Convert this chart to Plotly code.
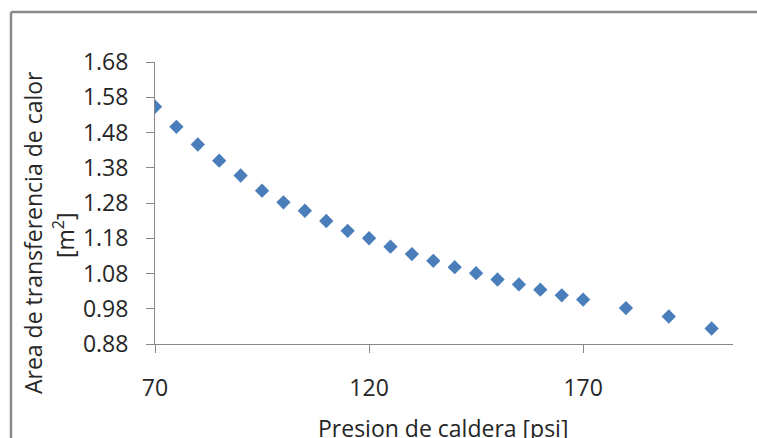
import plotly.graph_objects as go

presion = [70, 75, 80, 85, 90, 95, 100, 105, 110, 115, 120, 125, 130, 135,
           140, 145, 150, 155, 160, 165, 170, 180, 190, 200]
area = [1.553, 1.496, 1.446, 1.400, 1.358, 1.315, 1.282, 1.258, 1.229, 1.201,
        1.180, 1.156, 1.135, 1.116, 1.098, 1.081, 1.063, 1.049, 1.034, 1.018,
        1.006, 0.982, 0.958, 0.924]

x_title = "Presion de caldera [psi]"
y_title_1 = "Area de transferencia de calor"
y_title_2 = "[m<sup>2</sup>]"

W, H = 757, 438
L, R, T, B = 155, 24, 62, 94
pw, ph = W - L - R, H - T - B

def px_x(p):
    return (p - L) / pw

def px_y(p):
    return (H - B - p) / ph

FONT = "Open Sans"
FS = 23
TXT = "#262626"
axis_col = "#868686"

fig = go.Figure()
fig.add_trace(go.Scatter(
    x=presion, y=area, mode="markers",
    marker=dict(symbol="diamond", size=11, color="#4a7ebb", line=dict(width=0)),
    showlegend=False,
))

fig.update_layout(
    width=W, height=H,
    margin=dict(l=L, r=R, t=T, b=B, pad=0),
    paper_bgcolor="white", plot_bgcolor="white",
    font=dict(family=FONT, size=FS, color=TXT),
    xaxis=dict(range=[70, 205], tick0=70, dtick=50, showgrid=False, zeroline=False,
               showline=True, linecolor=axis_col, linewidth=1,
               ticks="outside", ticklen=8, tickcolor=axis_col,
               tickfont=dict(family=FONT, size=FS, color=TXT),
               ticklabelstandoff=15),
    yaxis=dict(range=[0.88, 1.68], tick0=0.88, dtick=0.1, tickformat=".2f",
               showgrid=False, zeroline=False,
               showline=True, linecolor=axis_col, linewidth=1,
               ticks="outside", ticklen=8, tickcolor=axis_col,
               tickfont=dict(family=FONT, size=FS, color=TXT),
               ticklabelstandoff=13),
    annotations=[
        dict(text=x_title, xref="paper", yref="paper", x=px_x(443), y=px_y(428),
             xanchor="center", yanchor="middle", showarrow=False,
             font=dict(family=FONT, size=FS, color=TXT)),
        dict(text=y_title_1, xref="paper", yref="paper", x=px_x(33), y=px_y(233),
             xanchor="center", yanchor="middle", showarrow=False, textangle=-90,
             font=dict(family=FONT, size=FS, color=TXT)),
        dict(text=y_title_2, xref="paper", yref="paper", x=px_x(64), y=px_y(235),
             xanchor="center", yanchor="middle", showarrow=False, textangle=-90,
             font=dict(family=FONT, size=FS, color=TXT)),
    ],
    shapes=[
        dict(type="line", xref="paper", yref="paper",
             x0=px_x(11), y0=px_y(12), x1=px_x(760), y1=px_y(12),
             line=dict(color="#8a8a8a", width=2.5)),
        dict(type="line", xref="paper", yref="paper",
             x0=px_x(11), y0=px_y(12), x1=px_x(11), y1=px_y(445),
             line=dict(color="#8a8a8a", width=2.5)),
    ],
)

fig.write_html("out.html")
